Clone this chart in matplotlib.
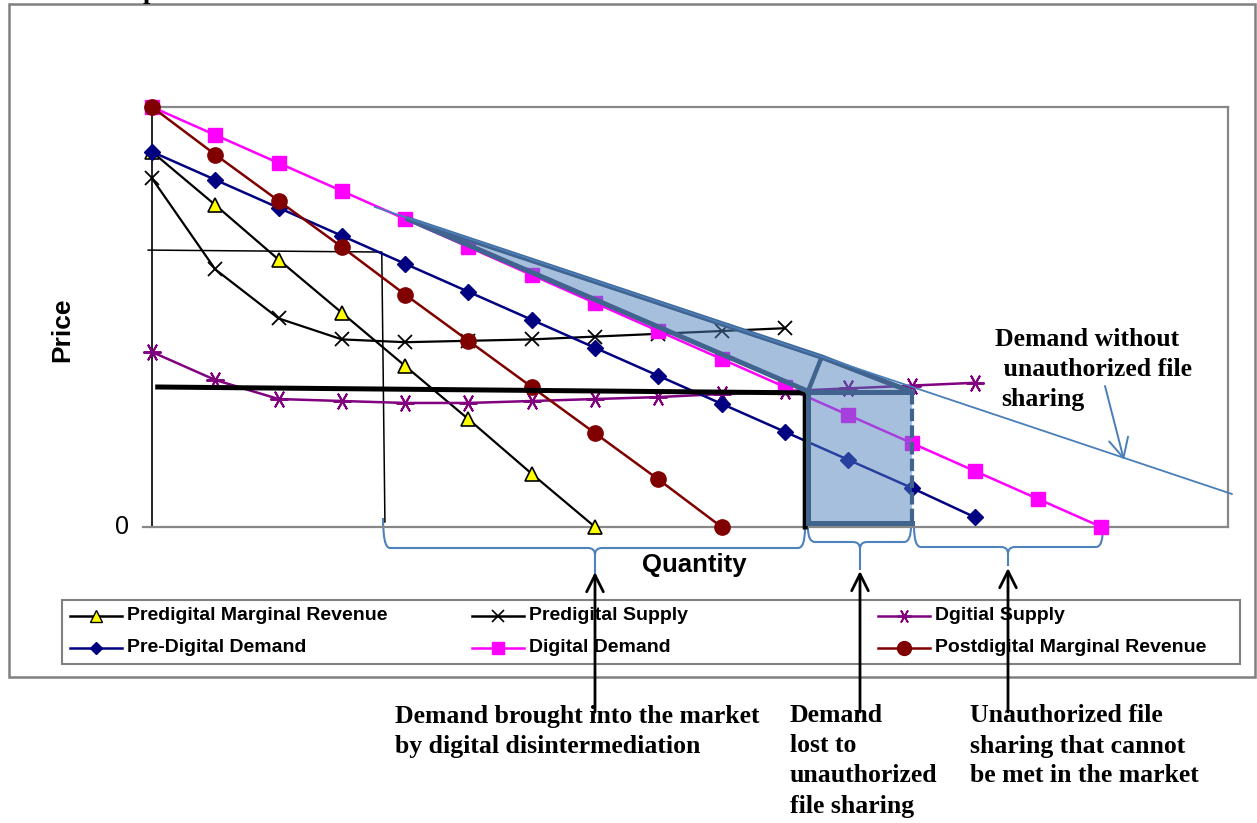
import matplotlib
matplotlib.use('Agg')
import matplotlib.pyplot as plt
from matplotlib.patches import Rectangle, Polygon, PathPatch
from matplotlib.path import Path
from matplotlib.lines import Line2D

# ---------------- data (quantity index, price units) ----------------
q_digital_demand = list(range(16))
digital_demand = [15, 14, 13, 12, 11, 10, 9, 8, 7, 6, 5, 4, 3, 2, 1, 0]

q_predigital_demand = list(range(14))
predigital_demand = [13.4, 12.4, 11.4, 10.4, 9.4, 8.4, 7.4, 6.4, 5.4, 4.4, 3.4, 2.4, 1.4, 0.35]

q_predigital_mr = list(range(8))
predigital_mr = [13.4, 11.5, 9.55, 7.65, 5.75, 3.85, 1.9, 0]

q_postdigital_mr = list(range(10))
postdigital_mr = [15, 13.3, 11.65, 10, 8.3, 6.65, 5, 3.35, 1.7, 0]

q_predigital_supply = list(range(11))
predigital_supply = [12.45, 9.2, 7.45, 6.7, 6.6, 6.65, 6.7, 6.8, 6.9, 7.0, 7.1]

q_digital_supply = list(range(14))
digital_supply = [6.25, 5.25, 4.57, 4.5, 4.43, 4.43, 4.5, 4.57, 4.64, 4.75, 4.85, 4.95, 5.05, 5.15]

# market equilibrium lines
eq_thick_q = [0.09, 10.32, 10.32]
eq_thick_p = [5.0, 4.79, 0.0]
eq_thin_q = [-0.06, 3.63, 3.68]
eq_thin_p = [9.89, 9.82, 0.18]

# demand without unauthorized file sharing
nofs_q = [3.52, 17.06]
nofs_p = [11.43, 1.18]

# shaded region (wedge + rectangle)
shade_q = [4.04, 10.58, 12.01, 12.01, 10.36, 10.36, 10.32]
shade_p = [11.0, 6.07, 4.82, 0.14, 0.14, 4.82, 4.89]

legend_labels = ["Predigital Marginal Revenue", "Predigital Supply", "Dgitial Supply",
                 "Pre-Digital Demand", "Digital Demand", "Postdigital Marginal Revenue"]

# ---------------- figure ----------------
W, H = 1257, 823
fig = plt.figure(figsize=(W / 100, H / 100), dpi=100)
ov = fig.add_axes([0, 0, 1, 1], zorder=0)
ov.set_xlim(0, W)
ov.set_ylim(H, 0)
ov.axis('off')

L, R, T, B = 152, 1228, 107, 527
ax = fig.add_axes([L / W, (H - B) / H, (R - L) / W, (B - T) / H], zorder=1)
ax.set_xlim(0, 17)
ax.set_ylim(0, 15)
ax.patch.set_alpha(0)
ax.set_xticks([])
ax.set_yticks([])
for s in ['top', 'right', 'bottom']:
    ax.spines[s].set_color('#878787')
    ax.spines[s].set_linewidth(1.6)
ax.spines['left'].set_color('black')
ax.spines['left'].set_linewidth(1.2)

# outer chart border
ov.add_patch(Rectangle((9, 4), 1246, 673, fill=False, edgecolor='#808080', lw=1.8))
# page fragment at top
ov.text(150, -1, 'p', fontsize=19, family='Liberation Serif', fontweight='bold', ha='center', va='baseline')

# y tick and label
ov.plot([143, 152], [527, 527], color='#878787', lw=1.6)
ov.text(122, 527, '0', fontsize=18, family='Liberation Sans', ha='center', va='center')
ov.text(62, 330, 'Price', fontsize=19, family='Liberation Sans', fontweight='bold', rotation=90,
        ha='center', va='center')
ov.text(694, 565, 'Quantity', fontsize=18.5, family='Liberation Sans', fontweight='bold',
        ha='center', va='center')

# thin black line
ax.plot(eq_thin_q, eq_thin_p, color='black', lw=1.1, zorder=2, clip_on=False)

# series
ax.plot(q_predigital_mr, predigital_mr, color='black', lw=1.6, marker='^', ms=10,
        mfc='#FFFF00', mec='black', mew=1.2, zorder=3, clip_on=False)
ax.plot(q_predigital_supply, predigital_supply, color='black', lw=1.6, marker='x', ms=10,
        mew=1.3, zorder=3, clip_on=False)
ax.plot(q_digital_supply, digital_supply, color='#800080', lw=1.8, marker=(6, 2, 90), ms=13,
        mew=1.4, zorder=3, clip_on=False)
ax.plot(q_predigital_demand, predigital_demand, color='#000080', lw=1.8, marker='D', ms=8,
        zorder=3, clip_on=False)
ax.plot(q_digital_demand, digital_demand, color='#FF00FF', lw=1.8, marker='s', ms=10,
        zorder=3, clip_on=False)
ax.plot(q_postdigital_mr, postdigital_mr, color='#800000', lw=1.8, marker='o', ms=11,
        zorder=3, clip_on=False)

# thick equilibrium line
ax.plot(eq_thick_q, eq_thick_p, color='black', lw=3.6, zorder=4, solid_joinstyle='miter',
        clip_on=False)

# shaded region
pts = list(zip(shade_q, shade_p))
ax.add_patch(Polygon(pts, closed=True, facecolor='#4F81BD', alpha=0.5, edgecolor='none', zorder=5))
edge = '#41648F'
ax.plot([shade_q[0], shade_q[1], shade_q[2]], [shade_p[0], shade_p[1], shade_p[2]],
        color=edge, lw=3.8, zorder=6, solid_capstyle='round', solid_joinstyle='round')
ax.plot([shade_q[0], shade_q[6]], [shade_p[0], shade_p[6]], color=edge, lw=3.6, zorder=6,
        solid_capstyle='round')
ax.plot([shade_q[1], shade_q[5]], [shade_p[1], shade_p[5]], color=edge, lw=3.2, zorder=6)
ax.plot([shade_q[5], shade_q[2]], [shade_p[5], shade_p[2]], color=edge, lw=3.6, zorder=6)
ax.plot([shade_q[5], shade_q[4], shade_q[3]], [shade_p[5], shade_p[4], shade_p[3]],
        color=edge, lw=3.6, zorder=6, solid_joinstyle='miter')
ax.plot([shade_q[2], shade_q[3]], [shade_p[2], shade_p[3]], color=edge, lw=3.0, zorder=6,
        ls=(0, (3, 1)))

# demand without unauthorized file sharing
ax.plot(nofs_q, nofs_p, color='#4A7EBB', lw=1.3, zorder=6, clip_on=False)

serif = dict(family='Liberation Serif', fontweight='bold', fontsize=18.5, va='center', ha='left')
for txt, x, y in [("Demand without", 995, 339), (" unauthorized file", 997, 369), ("sharing", 1001, 399)]:
    ov.text(x, y, txt, zorder=3, **serif)
ov.annotate('', xy=(1124, 460), xytext=(1105, 386), zorder=3,
            arrowprops=dict(arrowstyle='->,head_length=0.7,head_width=0.35', color='#4A7EBB',
                            lw=1.4, shrinkA=0, shrinkB=0, mutation_scale=20))

# braces
def brace(x0, x1, xm, yt0, yt1, yh, yb, r=7):
    verts = [(x0, yt0), (x0, yh), (x0 + r, yh), (xm - r, yh), (xm, yh), (xm, yh + r), (xm, yb)]
    codes = [Path.MOVETO, Path.CURVE3, Path.CURVE3, Path.LINETO, Path.CURVE3, Path.CURVE3, Path.LINETO]
    ov.add_patch(PathPatch(Path(verts, codes), fill=False, edgecolor='#4F81BD', lw=1.5, zorder=2))
    verts = [(x1, yt1), (x1, yh), (x1 - r, yh), (xm + r, yh), (xm, yh), (xm, yh + r)]
    codes = [Path.MOVETO, Path.CURVE3, Path.CURVE3, Path.LINETO, Path.CURVE3, Path.CURVE3]
    ov.add_patch(PathPatch(Path(verts, codes), fill=False, edgecolor='#4F81BD', lw=1.5, zorder=2))

brace(383, 805, 595, 518, 528, 548, 574)
brace(808, 911, 860, 528, 526, 542, 570)
brace(914, 1103, 1008, 526, 527, 547, 566)

# legend box (drawn manually to match Excel layout)
ov.add_patch(Rectangle((62, 600), 1178, 64, facecolor='white', edgecolor='#808080', lw=1.5, zorder=1))
leg_style = [
    dict(color='black', marker='^', ms=8, mfc='#FFFF00', mec='black', mew=1.0),
    dict(color='black', marker='x', ms=8, mew=1.2),
    dict(color='#800080', marker=(6, 2, 90), ms=10, mew=1.2),
    dict(color='#000080', marker='D', ms=6),
    dict(color='#FF00FF', marker='s', ms=9),
    dict(color='#800000', marker='o', ms=10),
]
leg_pos = [(70, 616), (472, 616), (878, 616), (70, 648), (472, 648), (878, 648)]
for lab, st, (x0, y0) in zip(legend_labels, leg_style, leg_pos):
    ov.add_line(Line2D([x0, x0 + 52], [y0, y0], lw=1.8, zorder=2, color=st['color']))
    ov.add_line(Line2D([x0 + 26], [y0], lw=0, zorder=2, **st))
    ov.text(x0 + 57, y0, lab, fontsize=14, family='Liberation Sans', fontweight='bold',
            ha='left', va='center', zorder=2)

# arrows from explanations to braces
for xa, yb in [(595, 572), (860, 571), (1008, 568)]:
    ov.annotate('', xy=(xa, yb), xytext=(xa, 712), zorder=4,
                arrowprops=dict(arrowstyle='->,head_length=0.6,head_width=0.3', color='black',
                                lw=2.0, shrinkA=0, shrinkB=0, mutation_scale=20))

# explanation texts
for x, lines in [(395, ["Demand brought into the market", "by digital disintermediation"]),
                 (790, ["Demand", "lost to", "unauthorized", "file sharing"]),
                 (970, ["Unauthorized file", "sharing that cannot", "be met in the market"])]:
    for i, t in enumerate(lines):
        ov.text(x, 716 + 30 * i, t, zorder=3, **serif)

fig.savefig('out.png', dpi=100)
